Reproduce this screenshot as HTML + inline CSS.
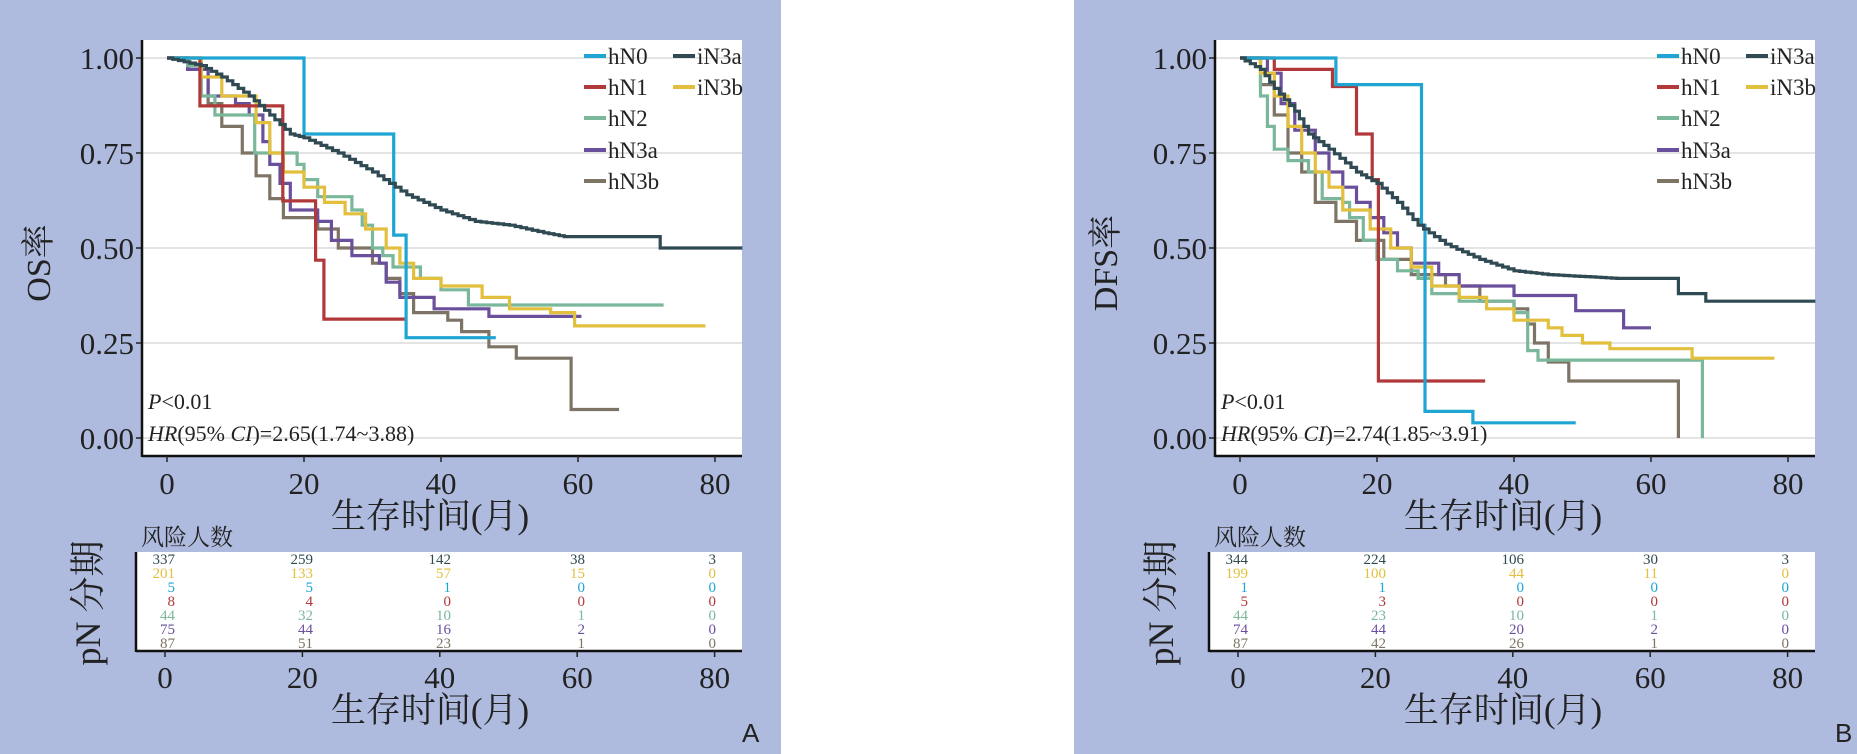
<!DOCTYPE html>
<html><head><meta charset="utf-8"><style>
html,body{margin:0;padding:0;background:#fff;}
body{width:1857px;height:754px;overflow:hidden;position:relative;}
svg{position:absolute;left:0;top:0;}
text{font-family:"Liberation Serif","Noto Serif CJK SC","Noto Sans CJK SC",serif;}
</style></head><body>
<svg id="s" width="1857" height="754" xmlns="http://www.w3.org/2000/svg">
<rect x="0" y="0" width="781" height="754" fill="#aebbdf"/>
<rect x="1074" y="0" width="783" height="754" fill="#aebbdf"/>
</svg>
<script>
var NS="http://www.w3.org/2000/svg",S=document.getElementById('s');
function el(t,a,txt){var e=document.createElementNS(NS,t);for(var k in a)e.setAttribute(k,a[k]);if(txt!==undefined)e.textContent=txt;S.appendChild(e);return e;}
var C={iN3a:"#2f4a52",iN3b:"#e2bf3d",hN0:"#1ea5d2",hN1:"#b2393a",hN2:"#7bb79a",hN3a:"#6a4f9c",hN3b:"#7d7466"};
function smooth(k,step){var o=[];for(var i=1;i<k.length;i++){var a=k[i-1],b=k[i];var n=Math.max(1,Math.round((b[0]-a[0])/step));for(var j=1;j<=n;j++){o.push([a[0]+(b[0]-a[0])*j/n,a[1]+(b[1]-a[1])*j/n]);}}return o;}
function panel(off,D){
 var x0=167+off,sx=6.85,X=function(m){return x0+sx*m},Y=function(s){return 438-380*s};
 var L=142+off,R=742+off;
 el('rect',{x:L,y:40,width:R-L,height:416,fill:"#fff"});
 [0,0.25,0.5,0.75,1].forEach(function(v){el('line',{x1:L,x2:R,y1:Y(v),y2:Y(v),stroke:"#dcdcdc","stroke-width":1.5});
  el('line',{x1:L-6,x2:L,y1:Y(v),y2:Y(v),stroke:"#222","stroke-width":1.5});
  el('text',{x:L-8,y:Y(v)+11,"text-anchor":"end","font-size":31,fill:"#222"},v.toFixed(2));});
 el('line',{x1:L,x2:L,y1:40,y2:457,stroke:"#111","stroke-width":2.5});
 el('line',{x1:L,x2:R,y1:456,y2:456,stroke:"#111","stroke-width":2.5});
 [0,20,40,60,80].forEach(function(m){el('line',{x1:X(m),x2:X(m),y1:456,y2:462,stroke:"#222","stroke-width":1.5});
  el('text',{x:X(m),y:494,"text-anchor":"middle","font-size":31,fill:"#222"},m);});
 el('text',{x:430+off,y:528,"text-anchor":"middle","font-size":35,fill:"#222"},"生存时间(月)");
 el('text',{x:0,y:0,"text-anchor":"middle","font-size":34,fill:"#222",transform:"translate("+(off+(off?44:50))+",263) rotate(-90)"},D.yl);
 var order=["hN3b","hN3a","hN2","iN3b","hN1","hN0","iN3a"];
 order.forEach(function(k){var c=D.c[k];var pts=c.p;var d="M"+X(0)+","+Y(1);
  pts.forEach(function(p){d+="H"+X(p[0]).toFixed(1)+"V"+Y(p[1]).toFixed(1);});
  d+="H"+X(c.e).toFixed(1);
  el('path',{d:d,fill:"none",stroke:C[k],"stroke-width":3.2});});
 var lg=[["hN0",584,56],["hN1",584,87],["hN2",584,118],["hN3a",584,150],["hN3b",584,181],["iN3a",673,56],["iN3b",673,87]];
 lg.forEach(function(l){el('line',{x1:l[1]+off,x2:l[1]+off+22,y1:l[2],y2:l[2],stroke:C[l[0]],"stroke-width":4});
  el('text',{x:l[1]+off+24,y:l[2]+8,"font-size":23,fill:"#222"},l[0]);});
 var t=el('text',{x:148+off,y:409,"font-size":22,fill:"#222"});t.innerHTML='<tspan font-style="italic">P</tspan>&lt;0.01';
 var t2=el('text',{x:148+off,y:441,"font-size":22,fill:"#222"});t2.innerHTML='<tspan font-style="italic">HR</tspan>(95% <tspan font-style="italic">CI</tspan>)='+D.hr;
 el('text',{x:141+off,y:545,"font-size":23,fill:"#222"},"风险人数");
 el('rect',{x:136+off,y:552,width:R-136-off,height:99,fill:"#fff"});
 el('line',{x1:136+off,x2:136+off,y1:552,y2:652,stroke:"#111","stroke-width":2.5});
 el('line',{x1:136+off,x2:R,y1:651,y2:651,stroke:"#111","stroke-width":2.5});
 var rk=["iN3a","iN3b","hN0","hN1","hN2","hN3a","hN3b"];
 var re=[175,313,451,585,716];
 D.r.forEach(function(row,i){row.forEach(function(v,j){el('text',{x:re[j]+off,y:564+14*i,"text-anchor":"end","font-size":15,fill:C[rk[i]]},v);});});
 [0,20,40,60,80].forEach(function(m){var xx=165+off+m*6.87;el('line',{x1:xx,x2:xx,y1:651,y2:657,stroke:"#222","stroke-width":1.5});
  el('text',{x:xx,y:688,"text-anchor":"middle","font-size":31,fill:"#222"},m);});
 el('text',{x:430+off,y:722,"text-anchor":"middle","font-size":35,fill:"#222"},"生存时间(月)");
 el('text',{x:0,y:0,"text-anchor":"middle","font-size":36,fill:"#222",transform:"translate("+(100+off)+",603) rotate(-90)"},"pN 分期");
 el('text',{x:off+D.lx,y:742,style:"font-family:'Liberation Sans',sans-serif",fill:"#222","font-size":26},D.lab);
}
panel(0,{yl:"OS率",hr:"2.65(1.74~3.88)",lab:"A",lx:742,
 r:[[337,259,142,38,3],[201,133,57,15,0],[5,5,1,0,0],[8,4,0,0,0],[44,32,10,1,0],[75,44,16,2,0],[87,51,23,1,0]],
 c:{
 hN0:{p:[[20,0.8],[33.1,0.534],[34.9,0.264]],e:48},
 hN1:{p:[[4.8,0.874],[16.9,0.624],[21.7,0.468],[22.9,0.313]],e:35},
 hN2:{p:[[3,0.98],[5,0.9],[7,0.85],[12.8,0.75],[19,0.72],[20,0.68],[22,0.635],[27,0.6],[28.5,0.56],[30,0.5],[31.5,0.48],[33,0.45],[37,0.42],[40,0.39],[44,0.35]],e:72.5},
 iN3b:{p:[[5,0.95],[8,0.9],[13,0.83],[15,0.75],[17,0.7],[20,0.66],[23,0.62],[26,0.59],[29,0.55],[32,0.5],[34,0.46],[36,0.42],[40,0.4],[46,0.37],[50,0.34],[56,0.33],[59.5,0.295]],e:78.6},
 hN3a:{p:[[3,0.97],[6,0.9],[10,0.88],[12,0.85],[14,0.78],[15,0.72],[16.5,0.67],[18,0.6],[22,0.57],[24,0.52],[27,0.48],[31,0.46],[32,0.41],[34,0.37],[39,0.34],[47,0.32]],e:60.5},
 hN3b:{p:[[3,0.97],[6,0.88],[8,0.82],[11,0.75],[13,0.69],[15,0.63],[17,0.58],[22,0.55],[25,0.5],[30,0.46],[32,0.42],[34,0.38],[36,0.33],[41,0.31],[43,0.28],[47,0.24],[51,0.21],[59,0.075]],e:66},
 iN3a:{p:smooth([[0,1],[5,0.98],[8,0.95],[12,0.9],[15,0.85],[18,0.8],[20,0.79],[25,0.75],[30,0.7],[35,0.64],[40,0.6],[45,0.57],[50,0.56],[55,0.54],[58,0.53],[71.5,0.53]],0.8).concat([[72,0.5]]),e:84}
 }});
panel(1073,{yl:"DFS率",hr:"2.74(1.85~3.91)",lab:"B",lx:762,
 r:[[344,224,106,30,3],[199,100,44,11,0],[1,1,0,0,0],[5,3,0,0,0],[44,23,10,1,0],[74,44,20,2,0],[87,42,26,1,0]],
 c:{
 hN0:{p:[[14,0.93],[26.5,0.56],[27,0.07],[34,0.04]],e:49},
 hN1:{p:[[5,0.97],[13.5,0.925],[17,0.8],[19.3,0.68],[20.2,0.15]],e:35.8},
 hN2:{p:[[3,0.9],[4,0.82],[5,0.76],[7,0.73],[10,0.7],[12,0.63],[15,0.62],[16,0.58],[18,0.52],[20,0.47],[23,0.44],[26,0.42],[28,0.38],[32,0.36],[40,0.33],[42,0.23],[43.5,0.205],[67.5,0]],e:67.5},
 iN3b:{p:[[3,0.96],[5,0.9],[7,0.82],[9,0.75],[11,0.7],[13,0.66],[15,0.6],[19,0.55],[22,0.5],[25,0.45],[28,0.4],[32,0.37],[36,0.34],[40,0.31],[45,0.29],[47,0.27],[50,0.25],[54,0.235],[66,0.21]],e:78},
 hN3a:{p:[[4,0.96],[6,0.88],[8,0.81],[11,0.75],[13,0.7],[15,0.66],[17,0.62],[19,0.58],[21,0.54],[23,0.5],[25,0.46],[29,0.43],[32,0.4],[40,0.375],[49,0.335],[56,0.29]],e:60},
 hN3b:{p:[[3,0.93],[5,0.85],[7,0.75],[9,0.7],[11,0.62],[14,0.57],[17,0.52],[21,0.47],[25,0.43],[30,0.4],[35,0.36],[40,0.34],[42,0.3],[43,0.25],[45,0.2],[48,0.15],[64,0]],e:64},
 iN3a:{p:smooth([[0,1],[3,0.97],[5,0.92],[8,0.86],[10,0.8],[13,0.76],[17,0.7],[20,0.67],[23,0.62],[26,0.56],[30,0.51],[35,0.47],[40,0.44],[45,0.43],[55,0.42],[62,0.42]],0.8).concat([[64,0.38],[68,0.36]]),e:84}
 }});
</script>
</body></html>
